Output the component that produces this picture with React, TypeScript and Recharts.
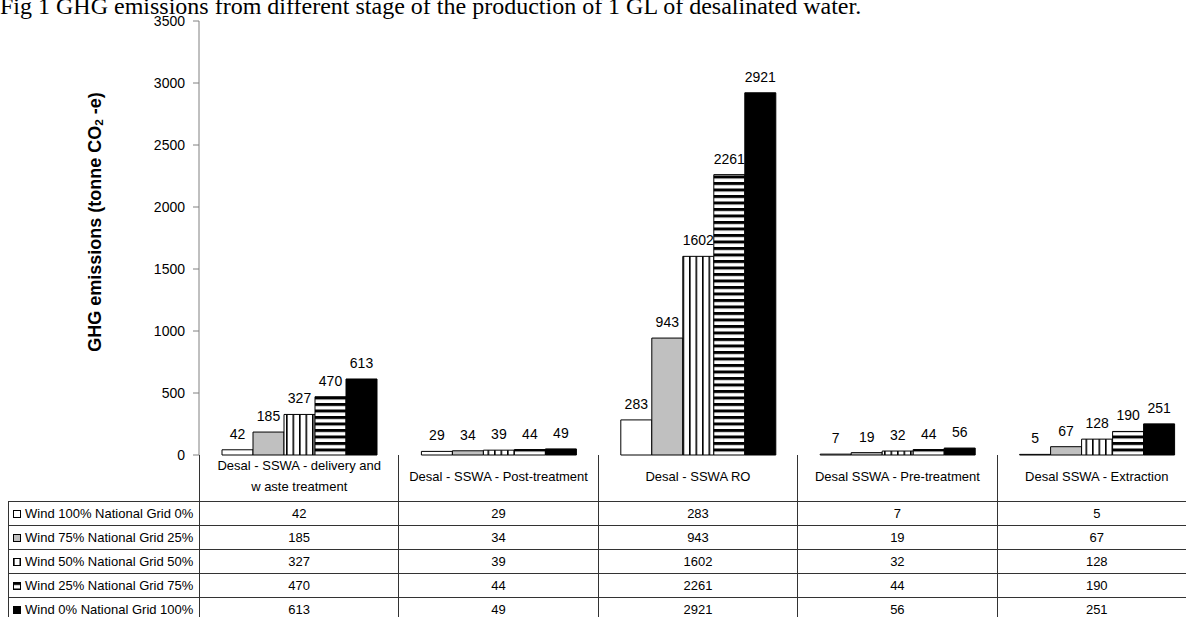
import React from 'react';
import { BarChart, Bar, XAxis, YAxis, LabelList } from 'recharts';

const categories = [
  'Desal - SSWA - delivery and w\u00a0aste treatment',
  'Desal - SSWA - Post-treatment',
  'Desal - SSWA RO',
  'Desal SSWA - Pre-treatment',
  'Desal SSWA - Extraction',
];

const seriesNames = [
  'Wind 100% National Grid 0%',
  'Wind 75% National Grid 25%',
  'Wind 50% National Grid 50%',
  'Wind 25% National Grid 75%',
  'Wind 0% National Grid 100%',
];

const wind100 = [42, 29, 283, 7, 5];
const wind75 = [185, 34, 943, 19, 67];
const wind50 = [327, 39, 1602, 32, 128];
const wind25 = [470, 44, 2261, 44, 190];
const wind0 = [613, 49, 2921, 56, 251];

const yTicks = [0, 500, 1000, 1500, 2000, 2500, 3000, 3500];

const seriesValues = [wind100, wind75, wind50, wind25, wind0];
const seriesKeys = ['s0', 's1', 's2', 's3', 's4'];
const FILLS = ['#ffffff', '#c0c0c0', 'url(#vstripe)', 'url(#hstripe)', '#000000'];

const data = categories.map((name, i) => {
  const row: any = { name };
  seriesKeys.forEach((k, j) => { row[k] = seriesValues[j][i]; });
  return row;
});

const FONT = '"Liberation Sans", Arial, sans-serif';

// plot geometry
const PLOT_LEFT = 199;
const CAT_W = 199.4;
const FIRST_COL = PLOT_LEFT - 8;

export default function App() {
  const cellBorder = '1px solid #333';

  return (
    <div style={{ position: 'absolute', left: 0, top: 0, width: 1186, height: 617, overflow: 'hidden', background: '#fff' }}>
      <svg width={0} height={0} style={{ position: 'absolute' }}>
        <defs>
          <pattern id="vstripe" patternUnits="userSpaceOnUse" width={6.5} height={6.5}>
            <rect width={6.5} height={6.5} fill="#fff" />
            <rect x={0} y={0} width={1.6} height={6.5} fill="#000" />
          </pattern>
          <pattern id="hstripe" patternUnits="userSpaceOnUse" width={6.5} height={6.5}>
            <rect width={6.5} height={6.5} fill="#fff" />
            <rect x={0} y={0} width={6.5} height={3} fill="#000" />
          </pattern>
        </defs>
      </svg>

      {/* title, cut off at the top like the source */}
      <div style={{ position: 'absolute', left: 0, top: -6, fontFamily: '"Liberation Serif", "Times New Roman", serif', fontSize: 24, lineHeight: '24px', whiteSpace: 'nowrap', color: '#000' }}>
        Fig 1 GHG emissions from different stage of the production of 1 GL of desalinated water.
      </div>

      {/* y axis title */}
      <div style={{ position: 'absolute', left: 95, top: 222, transform: 'translate(-50%, -50%) rotate(-90deg)', fontFamily: FONT, fontWeight: 700, fontSize: 18, whiteSpace: 'nowrap', color: '#000' }}>
        GHG emissions (tonne CO<span style={{ fontSize: '0.65em', verticalAlign: '-0.25em' }}>2</span> -e)
      </div>

      <div style={{ position: 'absolute', left: 0, top: 0 }}>
        <BarChart
          width={1200}
          height={460}
          data={data}
          margin={{ top: 21, right: 4, bottom: 5, left: 0 }}
          barGap={0}
          barCategoryGap={23}
        >
          <XAxis dataKey="name" tick={false} tickLine={false} height={0} axisLine={{ stroke: '#000' }} />
          <YAxis
            width={PLOT_LEFT}
            domain={[0, 3500]}
            ticks={yTicks}
            interval={0}
            tickSize={6}
            tickMargin={8}
            axisLine={{ stroke: '#808080' }}
            tickLine={{ stroke: '#808080' }}
            tick={{ fill: '#000', fontSize: 14, fontFamily: FONT }}
          />
          {seriesKeys.map((k, j) => (
            <Bar key={k} dataKey={k} name={seriesNames[j]} fill={FILLS[j]} stroke="#000" strokeWidth={1} isAnimationActive={false}>
              <LabelList dataKey={k} position="top" offset={11} fill="#000" fontSize={14} fontFamily={FONT} />
            </Bar>
          ))}
        </BarChart>
      </div>

      {/* data table under the axis */}
      <table
        style={{
          position: 'absolute', left: 8, top: 455, borderCollapse: 'collapse', tableLayout: 'fixed',
          width: FIRST_COL + CAT_W * categories.length, fontFamily: FONT, fontSize: 13, color: '#000',
        }}
      >
        <colgroup>
          <col style={{ width: FIRST_COL }} />
          {categories.map((c) => <col key={c} style={{ width: CAT_W }} />)}
        </colgroup>
        <tbody>
          <tr style={{ height: 44 }}>
            <td style={{ borderRight: cellBorder, padding: 0 }}></td>
            {categories.map((c) => (
              <td key={c} style={{ borderLeft: cellBorder, borderRight: cellBorder, textAlign: 'center', verticalAlign: 'middle', padding: '0 4px 4px', lineHeight: '21px' }}>
                {c}
              </td>
            ))}
          </tr>
          {seriesNames.map((s, j) => (
            <tr key={s} style={{ height: 24 }}>
              <td style={{ border: cellBorder, padding: '0 0 0 4px', whiteSpace: 'nowrap', verticalAlign: 'middle' }}>
                <svg width={8} height={8} style={{ marginRight: 4, verticalAlign: 'middle', position: 'relative', top: -1 }}>
                  <rect x={0.5} y={0.5} width={7} height={7} fill={FILLS[j]} stroke="#000" strokeWidth={1} />
                </svg>
                {s}
              </td>
              {seriesValues[j].map((v, i) => (
                <td key={i} style={{ border: cellBorder, textAlign: 'center', verticalAlign: 'middle', padding: 0 }}>
                  {v}
                </td>
              ))}
            </tr>
          ))}
        </tbody>
      </table>
    </div>
  );
}
